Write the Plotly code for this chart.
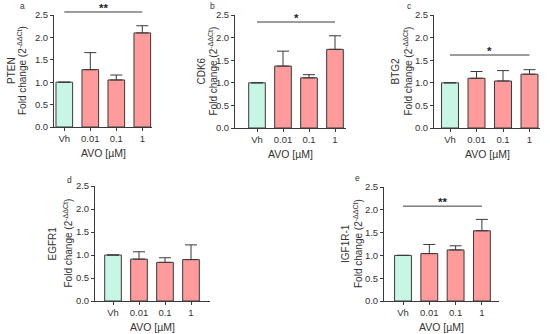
import plotly.graph_objects as go

W, H = 550, 334

categories = ["Vh", "0.01", "0.1", "1"]
genes = ["PTEN", "CDK6", "BTG2", "EGFR1", "IGF1R-1"]
letters = ["a", "b", "c", "d", "e"]

pten_mean = [1.00, 1.28, 1.05, 2.10]
pten_upper = [1.00, 1.66, 1.16, 2.26]
cdk6_mean = [1.00, 1.37, 1.11, 1.74]
cdk6_upper = [1.00, 1.70, 1.18, 2.04]
btg2_mean = [1.00, 1.10, 1.04, 1.19]
btg2_upper = [1.00, 1.25, 1.27, 1.29]
egfr1_mean = [1.00, 0.91, 0.84, 0.90]
egfr1_upper = [1.00, 1.07, 0.94, 1.22]
igf1r_mean = [1.00, 1.04, 1.12, 1.54]
igf1r_upper = [1.00, 1.24, 1.21, 1.79]

means = [pten_mean, cdk6_mean, btg2_mean, egfr1_mean, igf1r_mean]
uppers = [pten_upper, cdk6_upper, btg2_upper, egfr1_upper, igf1r_upper]

# significance: (label, y value of bar line) or None
sig = [("**", 2.567), ("*", 2.345), ("*", 1.615), None, ("**", 2.08)]

y_ticks = [0.0, 0.5, 1.0, 1.5, 2.0, 2.5]

# layout in pixels: axis left, axis right, first bar centre, spacing, y top(2.5), y bottom(0)
panels = [
    dict(xl=54, xr=152, c0=64.3, dx=26.0, yt=15, yb=127, lab=(22, 6), t1=12, t2=22),
    dict(xl=235, xr=346, c0=257, dx=26.0, yt=15, yb=128, lab=(212, 6), t1=201, t2=213),
    dict(xl=434, xr=540, c0=450, dx=26.5, yt=15, yb=128, lab=(409, 6), t1=395, t2=408),
    dict(xl=95, xr=210, c0=113, dx=26.0, yt=186, yb=301, lab=(70, 180), t1=52, t2=67),
    dict(xl=384, xr=499, c0=403, dx=26.3, yt=187, yb=301, lab=(357, 178), t1=345, t2=358),
]

mint = "#c8f6e4"
salmon = "#ff9b9b"
edge = "#3a3a3a"
font = "Liberation Sans, Arial, sans-serif"

fig = go.Figure()
annotations = []
shapes = []

for i, p in enumerate(panels):
    n = i + 1
    xa = "x" if n == 1 else f"x{n}"
    ya = "y" if n == 1 else f"y{n}"
    err = [u - m for u, m in zip(uppers[i], means[i])]
    fig.add_trace(go.Bar(
        x=list(range(len(categories))), y=means[i],
        marker=dict(color=[mint] + [salmon] * 3, line=dict(color=edge, width=1)),
        width=0.64,
        error_y=dict(type="data", array=err, arrayminus=[0] * 4, symmetric=False,
                     visible=True, color=edge, thickness=1, width=6),
        xaxis=xa, yaxis=ya, showlegend=False, hoverinfo="skip",
    ))
    r0 = (p["xl"] - p["c0"]) / p["dx"]
    r1 = 3 + (p["xr"] - (p["c0"] + 3 * p["dx"])) / p["dx"]
    xdom = [p["xl"] / W, p["xr"] / W]
    ydom = [1 - p["yb"] / H, 1 - p["yt"] / H]
    axkey = "xaxis" if n == 1 else f"xaxis{n}"
    aykey = "yaxis" if n == 1 else f"yaxis{n}"
    fig.update_layout(**{
        axkey: dict(domain=xdom, anchor=ya, range=[r0, r1], tickmode="array",
                    tickvals=list(range(4)), ticktext=categories, showgrid=False,
                    zeroline=False, showline=True, linecolor=edge, linewidth=1,
                    ticks="outside", ticklen=3, tickcolor=edge, automargin=False,
                    tickfont=dict(size=9.5, color="#333", family=font)),
        aykey: dict(domain=ydom, anchor=xa, range=[0, 2.5], tickmode="array",
                    tickvals=y_ticks, ticktext=[f"{v:.1f}" for v in y_ticks],
                    showgrid=False, zeroline=False, showline=True, linecolor=edge,
                    linewidth=1, ticks="outside", ticklen=3, tickcolor=edge,
                    automargin=False,
                    tickfont=dict(size=9.5, color="#333", family=font)),
    })
    ymid = 1 - (p["yt"] + p["yb"]) / 2 / H
    annotations.append(dict(x=p["t1"] / W, y=ymid, xref="paper", yref="paper",
                            xanchor="center", yanchor="middle",
                            text=genes[i], textangle=-90, showarrow=False,
                            font=dict(size=10, color="#333", family=font)))
    annotations.append(dict(x=p["t2"] / W, y=ymid, xref="paper", yref="paper",
                            xanchor="center", yanchor="middle",
                            text="Fold change (2<sup>-ΔΔCt</sup>)", textangle=-90,
                            showarrow=False, font=dict(size=10, color="#333", family=font)))
    annotations.append(dict(x=p["lab"][0] / W, y=1 - p["lab"][1] / H, xref="paper",
                            yref="paper", xanchor="center", yanchor="middle",
                            text=letters[i], showarrow=False,
                            font=dict(size=8.5, color="#333", family=font)))
    # x-axis title below tick labels
    annotations.append(dict(x=0.5, y=1 - (p["yb"] + 26) / H, xref=f"{xa} domain",
                            yref="paper", xanchor="center", yanchor="middle",
                            text="AVO [µM]", showarrow=False,
                            font=dict(size=10.5, color="#333", family=font)))
    if sig[i] is not None:
        lab, yv = sig[i]
        fx0 = (0 - r0) / (r1 - r0)
        fx1 = (3 - r0) / (r1 - r0)
        fy = yv / 2.5
        shapes.append(dict(type="line", xref=f"{xa} domain", yref=f"{ya} domain",
                           x0=fx0, x1=fx1, y0=fy, y1=fy,
                           line=dict(color=edge, width=1)))
        annotations.append(dict(x=(1.5 - r0) / (r1 - r0), y=fy, xref=f"{xa} domain",
                                yref=f"{ya} domain", text=f"<b>{lab}</b>", showarrow=False,
                                xanchor="center", yanchor="bottom", yshift=-4,
                                font=dict(size=11.5, color="#222", family=font)))

fig.update_layout(width=W, height=H, margin=dict(l=0, r=0, t=0, b=0),
                  paper_bgcolor="white", plot_bgcolor="white",
                  annotations=annotations, shapes=shapes, bargap=0.3)

fig.write_html("out.html", config={"displayModeBar": False},
               post_script="document.body.style.margin='0';document.body.style.padding='0';")
